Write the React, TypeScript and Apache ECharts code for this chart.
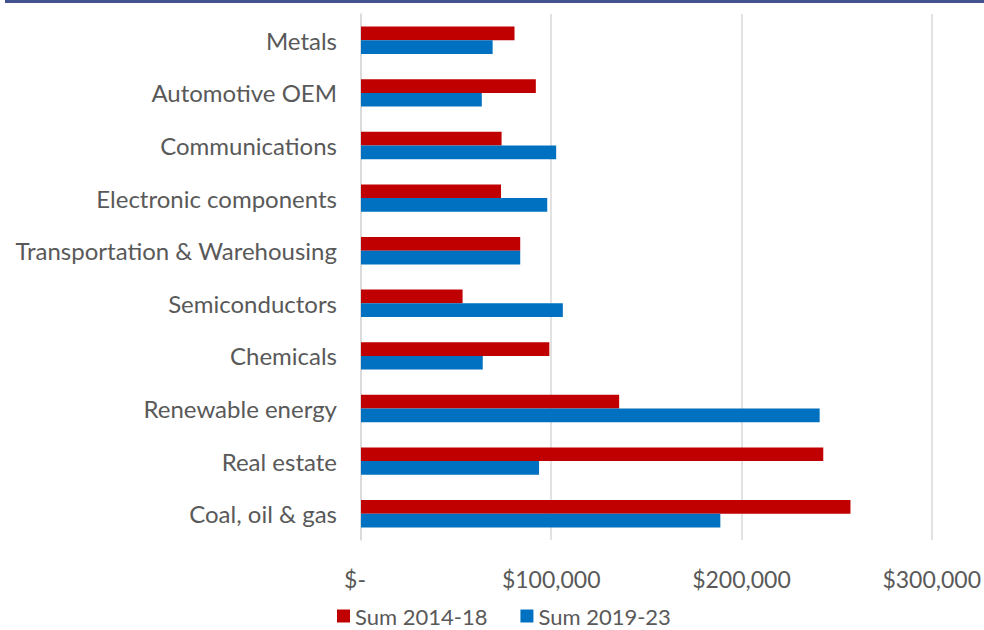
import React, { useEffect, useRef } from "react";
import * as echarts from "echarts";

const categories = [
  "Metals",
  "Automotive OEM",
  "Communications",
  "Electronic components",
  "Transportation & Warehousing",
  "Semiconductors",
  "Chemicals",
  "Renewable energy",
  "Real estate",
  "Coal, oil & gas",
];
const sum2014_18 = [80700, 91900, 73900, 73600, 83700, 53400, 99000, 135700, 243000, 257300];
const sum2019_23 = [69200, 63500, 102600, 97900, 83700, 106100, 64000, 241100, 93600, 188900];
const seriesNames = ["Sum 2014-18", "Sum 2019-23"];
const xTicks = [0, 100000, 200000, 300000];

const FONT = "Lato";
const TEXT = "#595959";

export default function App() {
  const ref = useRef<HTMLDivElement>(null);
  useEffect(() => {
    const chart = echarts.init(ref.current!, null, { renderer: "svg" });
    const fmt = (v: number) =>
      v === 0 ? "{z|$-}" : "$" + v.toLocaleString("en-US");
    chart.setOption({
      animation: false,
      textStyle: { fontFamily: FONT },
      graphic: [
        {
          type: "rect",
          shape: { x: 5, y: 0, width: 979, height: 3 },
          style: { fill: "#41528f" },
        },
      ],
      grid: { left: 361, right: 48.5, top: 14, bottom: 90 },
      legend: {
        top: 605,
        left: 337,
        padding: 0,
        icon: "rect",
        itemWidth: 13,
        itemHeight: 13,
        itemGap: 33,
        textStyle: { fontFamily: FONT, fontSize: 22, lineHeight: 22, color: TEXT },
        data: seriesNames,
      },
      xAxis: {
        type: "value",
        min: xTicks[0],
        max: xTicks[xTicks.length - 1],
        interval: 100000,
        axisLine: { show: false },
        axisTick: { show: false },
        splitLine: { lineStyle: { color: "#d9d9d9", width: 1.5 } },
        axisLabel: {
          formatter: fmt,
          fontFamily: FONT,
          fontSize: 23,
          color: TEXT,
          margin: 27,
          rich: { z: { fontFamily: FONT, fontSize: 23, color: TEXT, padding: [0, 12, 0, 0] } },
        },
      },
      yAxis: {
        type: "category",
        data: categories,
        inverse: true,
        axisLine: { show: true, lineStyle: { color: "#d9d9d9", width: 1.5 } },
        axisTick: { show: false },
        axisLabel: { fontFamily: FONT, fontSize: 24, color: TEXT, margin: 24 },
      },
      series: [
        {
          name: seriesNames[0],
          type: "bar",
          data: sum2014_18,
          itemStyle: { color: "#C00000" },
          barGap: "0%",
          barCategoryGap: "48%",
        },
        {
          name: seriesNames[1],
          type: "bar",
          data: sum2019_23,
          itemStyle: { color: "#0070C0" },
          barGap: "0%",
          barCategoryGap: "48%",
        },
      ],
    });
    return () => chart.dispose();
  }, []);
  return (
    <div
      ref={ref}
      style={{ position: "absolute", left: 0, top: 0, width: 984, height: 630 }}
    />
  );
}
